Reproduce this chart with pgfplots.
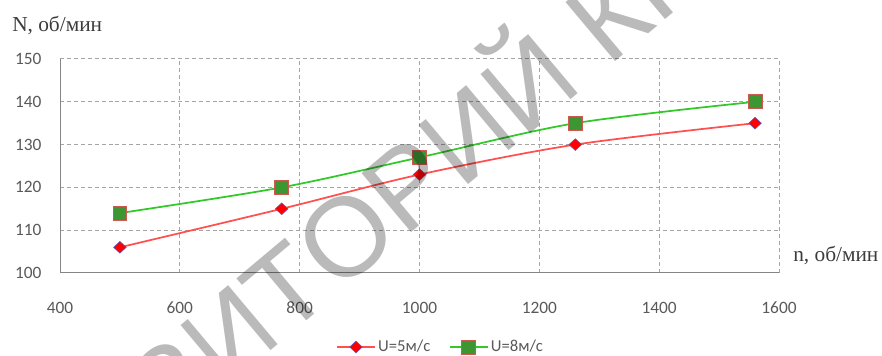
\documentclass[border=0pt]{standalone}
\usepackage{pgfplots}
\pgfplotsset{compat=1.18}
\usepackage{fontspec}
\newfontfamily\carlito{Carlito}
\newfontfamily\tnr{Liberation Serif}
\newfontfamily\arial{Liberation Sans}
\definecolor{axgray}{RGB}{134,134,134}
\definecolor{gridgray}{RGB}{165,165,165}
\definecolor{txtgray}{RGB}{89,89,89}
\definecolor{lblgray}{RGB}{60,60,60}
\definecolor{redline}{RGB}{255,80,80}
\definecolor{greenline}{RGB}{50,200,40}
\definecolor{sqfill}{RGB}{60,150,50}
\definecolor{sqdraw}{RGB}{205,90,80}
\definecolor{dmdraw}{RGB}{90,90,200}
\begin{document}
\begin{tikzpicture}
\begin{axis}[
  name=ax,
  scale only axis,
  width=539.25pt, height=160.5pt,
  xmin=400, xmax=1600, ymin=100, ymax=150,
  xtick={400,600,800,1000,1200,1400,1600},
  ytick={100,110,120,130,140,150},
  axis x line*=bottom, axis y line*=left,
  axis line style={draw=axgray, line width=0.75pt, -},
  grid=major,
  major grid style={draw=gridgray, line width=0.75pt, dash pattern=on 3pt off 2.2pt},
  major tick length=0pt,
  tick style={draw=none},
  /pgf/number format/assume math mode=true,
  /pgf/number format/1000 sep={},
  ticklabel style={font=\carlito\fontsize{13}{15}\selectfont, text=txtgray, inner sep=0pt},
  yticklabel style={anchor=east, xshift=-13.7pt},
  xticklabel style={anchor=north, yshift=-21.5pt},
  legend style={at={(0.53,-0.346)}, anchor=center, draw=none, fill=none,
    font=\carlito\fontsize{12.5}{14}\selectfont, text=txtgray,
    /tikz/every even column/.append style={column sep=12pt}},
  legend columns=2,
  legend cell align=left,
  legend image code/.code={\draw[mark repeat=2,mark phase=2] plot coordinates {(0pt,0pt) (14pt,0pt) (28pt,0pt)};},
]
\addplot[redline, line width=1.3pt, smooth, tension=0.5,
  mark=diamond*, mark size=4.4pt, mark options={solid, fill=red, draw=dmdraw, line width=0.4pt, xscale=1.44}]
  coordinates {(500,106) (770,115) (1000,123) (1260,130) (1560,135)};
\addlegendentry{U=5м/с}
\addplot[greenline, line width=1.3pt, smooth, tension=0.5,
  mark=square*, mark size=5.2pt, mark options={solid, fill=sqfill, draw=sqdraw, line width=0.6pt}]
  coordinates {(500,114) (770,120) (1000,127) (1260,135) (1560,140)};
\addlegendentry{U=8м/с}
\end{axis}
\node[anchor=base west, inner sep=0pt, font=\tnr\fontsize{16}{18}\selectfont, text=lblgray]
  at ([shift={(-36pt,20.5pt)}]ax.north west) {N, об/мин};
\node[anchor=base west, inner sep=0pt, font=\tnr\fontsize{16}{18}\selectfont, text=lblgray]
  at ([shift={(10.5pt,8.5pt)}]ax.south east) {n, об/мин};
\begin{scope}[opacity=0.27]
\node[rotate=40, anchor=base east, inner sep=0pt, text=black, font=\arial\fontsize{84}{84}\selectfont]
  at ([shift={(208pt,-16.5pt)}]ax.south west) {РЕПОЗИТ};
\node[rotate=40, anchor=base west, inner sep=0pt, text=black, font=\arial\fontsize{84}{84}\selectfont]
  at ([shift={(208pt,-16.5pt)}]ax.south west) {ОРИЙ КГУ};
\end{scope}
\pgfresetboundingbox
\path[use as bounding box] ([shift={(-45pt,-62.25pt)}]ax.south west) rectangle ++(661.5pt,267pt);
\end{tikzpicture}
\end{document}
